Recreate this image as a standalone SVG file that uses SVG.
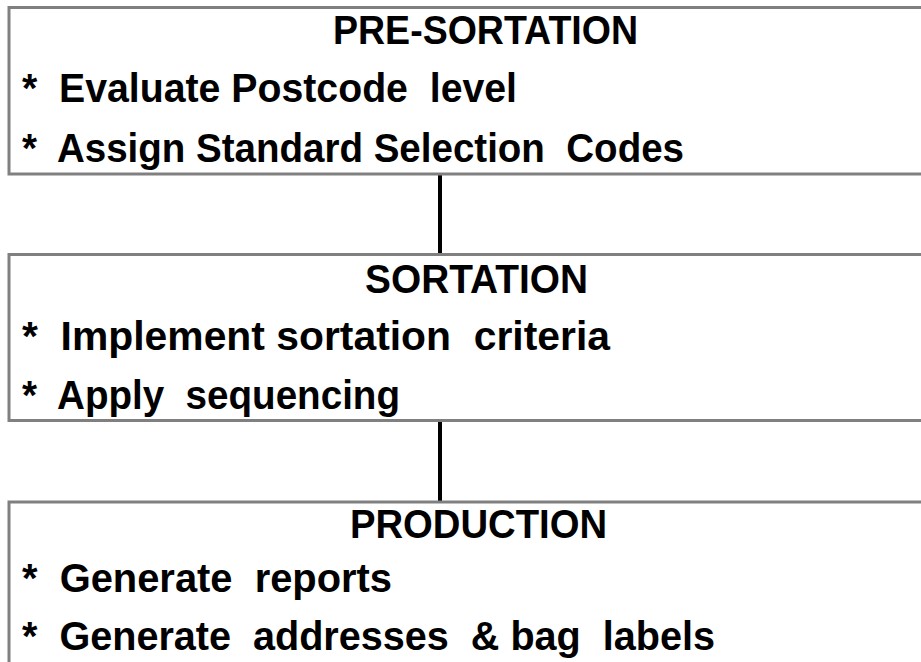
<svg xmlns="http://www.w3.org/2000/svg" width="921" height="662" viewBox="0 0 921 662">
  <style>
    .box { fill: #ffffff; stroke: #808080; stroke-width: 3; }
    .link { stroke: #000000; stroke-width: 4; fill: none; }
    text { font-family: "Liberation Sans", Arial, sans-serif; font-weight: bold; font-size: 41px; fill: #000000; white-space: pre; }
  </style>
  <rect width="921" height="662" fill="#ffffff"/>

  <!-- connectors between stages -->
  <g id="connectors">
    <line class="link" x1="440" y1="175" x2="440" y2="254"/>
    <line class="link" x1="440" y1="421" x2="440" y2="501"/>
  </g>

  <!-- stage 1 -->
  <g id="pre-sortation">
    <rect class="box" x="9" y="7.5" width="940" height="166.5"/>
    <text x="333" y="44" textLength="305" lengthAdjust="spacingAndGlyphs">PRE-SORTATION</text>
    <text x="22" y="102" textLength="495" lengthAdjust="spacingAndGlyphs">*  Evaluate Postcode  level</text>
    <text x="22" y="162" textLength="662" lengthAdjust="spacingAndGlyphs">*  Assign Standard Selection  Codes</text>
  </g>

  <!-- stage 2 -->
  <g id="sortation">
    <rect class="box" x="9" y="254.5" width="940" height="166"/>
    <text x="365" y="293" textLength="223" lengthAdjust="spacingAndGlyphs">SORTATION</text>
    <text x="22" y="350" textLength="588" lengthAdjust="spacingAndGlyphs">*  Implement sortation  criteria</text>
    <text x="22" y="409" textLength="378" lengthAdjust="spacingAndGlyphs">*  Apply  sequencing</text>
  </g>

  <!-- stage 3 -->
  <g id="production">
    <rect class="box" x="9" y="502" width="940" height="200"/>
    <text x="350" y="538" textLength="257" lengthAdjust="spacingAndGlyphs">PRODUCTION</text>
    <text x="22" y="592" textLength="370" lengthAdjust="spacingAndGlyphs">*  Generate  reports</text>
    <text x="22" y="650" textLength="693" lengthAdjust="spacingAndGlyphs">*  Generate  addresses  &amp; bag  labels</text>
  </g>
</svg>
